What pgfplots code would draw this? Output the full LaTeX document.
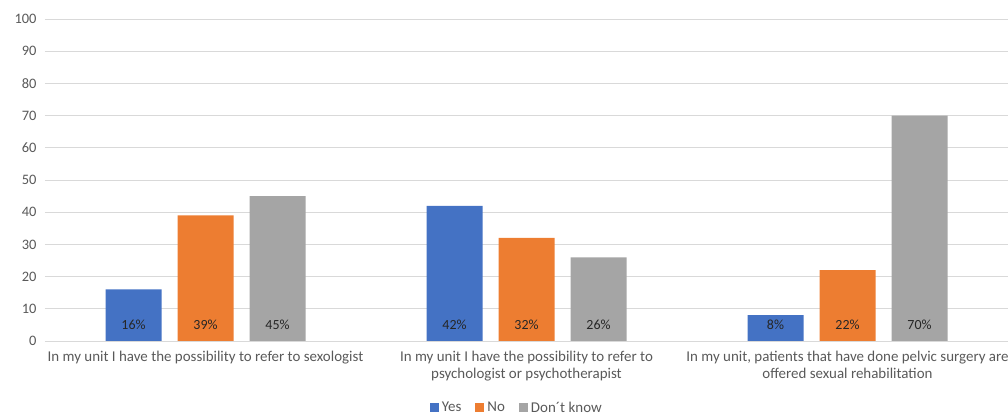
\documentclass[border=0pt]{standalone}
\usepackage{pgfplots}
\pgfplotsset{compat=1.18}
\usepackage{fontspec}
\setmainfont{Carlito}
\definecolor{cYes}{HTML}{4472C4}
\definecolor{cNo}{HTML}{ED7D31}
\definecolor{cDk}{HTML}{A5A5A5}
\definecolor{txt}{HTML}{595959}
\definecolor{gridc}{HTML}{D9D9D9}
\begin{document}
\begin{tikzpicture}[x=1bp,y=1bp]
\begin{axis}[
  at={(45bp,73bp)}, anchor=south west,
  width=963bp, height=322bp, scale only axis,
  ybar=16bp, bar width=56bp,
  xmin=-0.5, xmax=2.5, ymin=0, ymax=100,
  xtick=data,
  xticklabels={{In my unit I have the possibility to refer to sexologist},
    {In my unit I have the possibility to refer to\\psychologist or psychotherapist},
    {In my unit, patients that have done pelvic surgery are\\offered sexual rehabilitation}},
  xticklabel style={align=center, font=\fontsize{15}{17}\selectfont, text=txt, yshift=-7bp},
  ytick={0,10,...,100},
  yticklabel style={font=\fontsize{14.5}{16}\selectfont, text=txt, xshift=-5bp},
  /pgf/number format/assume math mode=true,
  major tick length=0pt,
  ymajorgrids, major grid style={draw=gridc, line width=0.8pt},
  axis line style={draw=none},
  visualization depends on={y \as \rawy},
  nodes near coords={\pgfmathprintnumber{\pgfplotspointmeta}\%},
  every node near coord/.append style={anchor=center, font=\fontsize{14}{16}\selectfont,
    text=black!85, shift={(axis direction cs:0,{5-\rawy})}},
  legend style={at={(axis description cs:0.49,-0.207)}, anchor=center,
    legend columns=-1, draw=none, font=\fontsize{15}{17}\selectfont, text=txt,
    /tikz/every odd column/.append style={column sep=1bp},
    /tikz/every even column/.append style={column sep=12bp}},
  legend image code/.code={\fill[#1] (0bp,-4.5bp) rectangle (9bp,4.5bp);},
]
\addplot[fill=cYes, draw=none] coordinates {(0,16) (1,42) (2,8)};
\addplot[fill=cNo, draw=none] coordinates {(0,39) (1,32) (2,22)};
\addplot[fill=cDk, draw=none] coordinates {(0,45) (1,26) (2,70)};
\legend{Yes, No, Don´t know}
\end{axis}
\pgfresetboundingbox
\path[use as bounding box] (0,0) rectangle (1008bp,414bp);
\end{tikzpicture}
\end{document}
